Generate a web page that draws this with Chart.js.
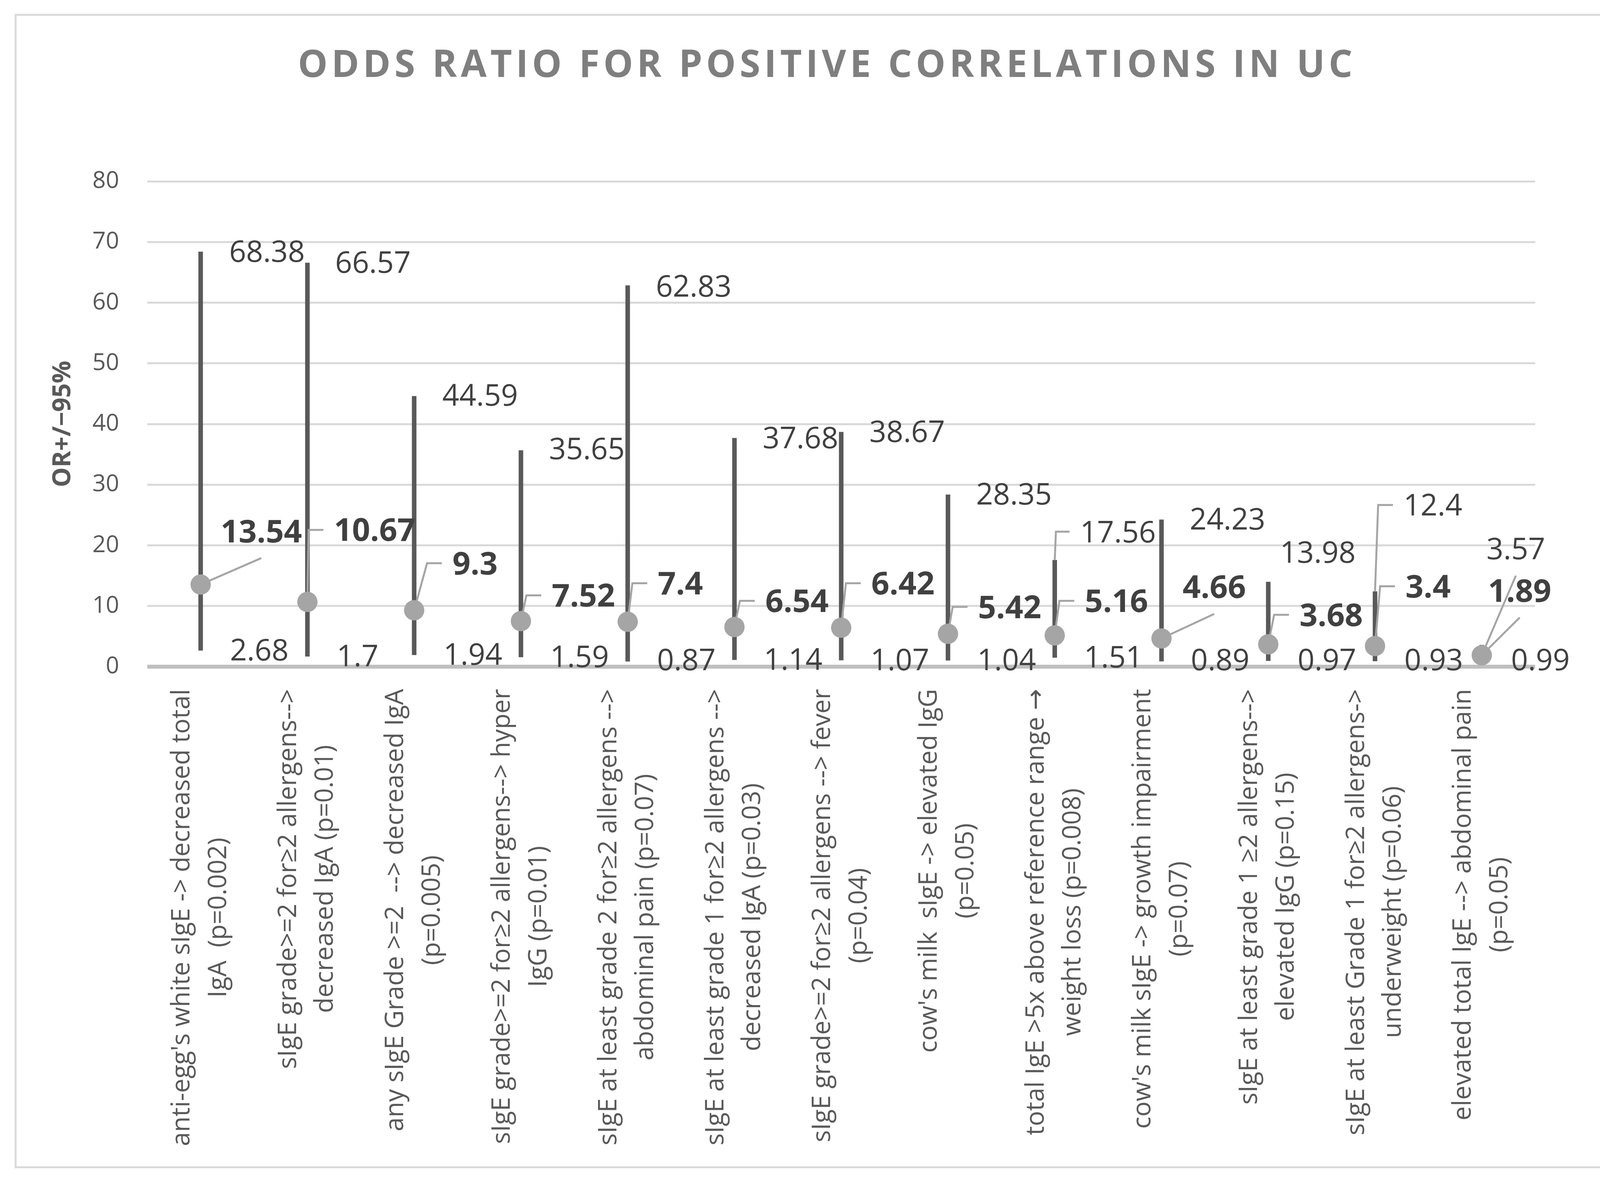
<!DOCTYPE html>
<html>
<head>
<meta charset="utf-8">
<script src="https://cdn.jsdelivr.net/npm/chart.js@4.4.1/dist/chart.umd.min.js"></script>
<style>
html, body { margin: 0; padding: 0; background: #fff; }
canvas { display: block; }
</style>
</head>
<body>
<canvas id="myChart" width="4225" height="3017"></canvas>
<script>
// Chart data
var categories = [
    ["anti-egg's white sIgE -> decreased total", "IgA  (p=0.002)"],
    ["sIgE grade>=2 for\u22652 allergens-->", "decreased IgA (p=0.01)"],
    ["any sIgE Grade >=2  --> decreased IgA", "(p=0.005)"],
    ["sIgE grade>=2 for\u22652 allergens--> hyper", "IgG (p=0.01)"],
    ["sIgE at least grade 2 for\u22652 allergens -->", "abdominal pain (p=0.07)"],
    ["sIgE at least grade 1 for\u22652 allergens -->", "decreased IgA (p=0.03)"],
    ["sIgE grade>=2 for\u22652 allergens --> fever", "(p=0.04)"],
    ["cow's milk  sIgE -> elevated IgG", "(p=0.05)"],
    ["total IgE >5x above reference range \u2192", "weight loss (p=0.008)"],
    ["cow's milk sIgE -> growth impairment", "(p=0.07)"],
    ["sIgE at least grade 1 \u22652 allergens-->", "elevated IgG (p=0.15)"],
    ["sIgE at least Grade 1 for\u22652 allergens->", "underweight (p=0.06)"],
    ["elevated total IgE --> abdominal pain", "(p=0.05)"]
];
var oddsRatio = [13.54, 10.67, 9.3, 7.52, 7.4, 6.54, 6.42, 5.42, 5.16, 4.66, 3.68, 3.4, 1.89];
var ciLow = [2.68, 1.7, 1.94, 1.59, 0.87, 1.14, 1.07, 1.04, 1.51, 0.89, 0.97, 0.93, 0.99];
var ciHigh = [68.38, 66.57, 44.59, 35.65, 62.83, 37.68, 38.67, 28.35, 17.56, 24.23, 13.98, 12.4, 3.57];
var yTicks = [0, 10, 20, 30, 40, 50, 60, 70, 80];

// Where the data labels sit (axis units) and how far right of the bar they start (px)
var orLabelAt = [22, 22.2, 16.7, 11.4, 13.4, 10.5, 13.4, 9.5, 10.5, 12.8, 8.2, 12.9, 12.2];
var orLabelDx = [51, 68, 98, 79, 77, 79, 77, 77, 77, 54, 80, 78, 16];
var orLeader = ['line', 'elbow', 'elbow', 'elbow', 'elbow', 'elbow', 'elbow', 'elbow', 'elbow', 'line', 'elbow', 'elbow', 'line'];
var hiLabelAt = [68.1, 66.3, 44.4, 35.6, 62.4, 37.4, 38.4, 28.1, 21.9, 24.0, 18.5, 26.3, 19.1];
var hiLabelDx = [73, 71, 72, 72, 72, 72, 72, 72, 65, 72, 30, 73, 12];
var hiLeader = ['', '', '', '', '', '', '', '', 'elbow', '', '', 'elbow', 'line'];

var FONT = "'Open Sans', 'DejaVu Sans', sans-serif";

// Light frame round the whole chart
var framePlugin = {
    id: 'frame',
    beforeDraw: function (chart) {
        var ctx = chart.ctx;
        ctx.save();
        ctx.fillStyle = '#ffffff';
        ctx.fillRect(0, 0, chart.width, chart.height);
        ctx.strokeStyle = '#D9D9D9';
        ctx.lineWidth = 5;
        ctx.strokeRect(40, 38, 4146, 2949);
        ctx.restore();
    }
};

// Spaced-out title
var titlePlugin = {
    id: 'spacedTitle',
    afterDraw: function (chart) {
        var ctx = chart.ctx;
        var text = 'ODDS RATIO FOR POSITIVE CORRELATIONS IN UC';
        ctx.save();
        ctx.font = 'bold 96px ' + FONT;
        ctx.fillStyle = '#7F7F7F';
        ctx.textBaseline = 'middle';
        ctx.textAlign = 'left';
        var w = ctx.measureText(text).width;
        var spacing = Math.max(0, (2700 - w) / (text.length - 1));
        ctx.letterSpacing = spacing + 'px';
        var total = ctx.measureText(text).width - spacing;
        ctx.fillText(text, chart.width / 2 - total / 2, 170);
        ctx.restore();
    }
};

// Rotated, centred two-line category labels
var categoryPlugin = {
    id: 'categoryLabels',
    afterDraw: function (chart) {
        var ctx = chart.ctx;
        var xs = chart.scales.x;
        var axisY = chart.chartArea.bottom;
        ctx.save();
        ctx.font = '65px ' + FONT;
        ctx.fillStyle = '#595959';
        ctx.textAlign = 'center';
        ctx.textBaseline = 'middle';
        categories.forEach(function (lines, i) {
            var x = xs.getPixelForValue(i);
            var wMax = Math.max.apply(null, lines.map(function (l) { return ctx.measureText(l).width; }));
            ctx.save();
            ctx.translate(x, axisY);
            ctx.rotate(-Math.PI / 2);
            lines.forEach(function (l, j) {
                ctx.fillText(l, -(57 + wMax / 2), (j - (lines.length - 1) / 2) * 94);
            });
            ctx.restore();
        });
        ctx.restore();
    }
};

// Data labels with leader lines
var labelPlugin = {
    id: 'errLabels',
    afterDatasetsDraw: function (chart) {
        var ctx = chart.ctx;
        var xs = chart.scales.x;
        var ys = chart.scales.y;
        ctx.save();
        ctx.strokeStyle = '#A5A5A5';
        ctx.lineWidth = 5;

        function leader(type, x, y0, left, width, at) {
            if (type === 'line') {
                ctx.beginPath();
                ctx.moveTo(x, y0);
                ctx.lineTo(left + width / 2, ys.getPixelForValue(at - 4.1));
                ctx.stroke();
            } else if (type === 'elbow') {
                var yk = ys.getPixelForValue(at + 0.35);
                var knee = Math.max(x + 3, left - 65);
                ctx.beginPath();
                ctx.moveTo(x, y0);
                ctx.lineTo(knee, yk);
                ctx.lineTo(left - 27, yk);
                ctx.stroke();
            }
        }

        categories.forEach(function (c, i) {
            var x = xs.getPixelForValue(i);
            ctx.font = 'bold 81px ' + FONT;
            var orW = ctx.measureText(String(oddsRatio[i])).width;
            leader(orLeader[i], x, ys.getPixelForValue(oddsRatio[i]), x + orLabelDx[i], orW, orLabelAt[i]);

            ctx.font = '76px ' + FONT;
            var hiW = ctx.measureText(String(ciHigh[i])).width;
            var hiStart = hiLeader[i] === 'line' ? ys.getPixelForValue(oddsRatio[i]) : ys.getPixelForValue(ciHigh[i]);
            leader(hiLeader[i], x, hiStart, x + hiLabelDx[i], hiW, hiLabelAt[i]);
        });

        ctx.fillStyle = '#404040';
        ctx.textAlign = 'left';
        ctx.textBaseline = 'middle';
        categories.forEach(function (c, i) {
            var x = xs.getPixelForValue(i);
            ctx.font = '76px ' + FONT;
            ctx.fillText(String(ciHigh[i]), x + hiLabelDx[i], ys.getPixelForValue(hiLabelAt[i]));
            ctx.fillText(String(ciLow[i]), x + 75, ys.getPixelForValue(Math.max(ciLow[i] - 0.25, 0.8)));
            ctx.font = 'bold 81px ' + FONT;
            ctx.fillText(String(oddsRatio[i]), x + orLabelDx[i], ys.getPixelForValue(orLabelAt[i]));
        });
        ctx.restore();
    }
};

var ctx = document.getElementById('myChart').getContext('2d');
var myChart = new Chart(ctx, {
    type: 'bar',
    data: {
        labels: categories,
        datasets: [{
            type: 'line',
            label: 'OR',
            data: oddsRatio,
            showLine: false,
            pointRadius: 26,
            pointHoverRadius: 26,
            pointBackgroundColor: '#A5A5A5',
            pointBorderColor: '#A5A5A5',
            pointBorderWidth: 0,
            order: 0
        }, {
            label: '95% CI',
            data: ciLow.map(function (l, i) { return [l, ciHigh[i]]; }),
            backgroundColor: '#595959',
            barThickness: 11,
            borderSkipped: false,
            order: 1
        }]
    },
    options: {
        responsive: false,
        animation: false,
        devicePixelRatio: 1,
        layout: { padding: { top: 464, right: 295, left: 0, bottom: 0 } },
        plugins: {
            legend: { display: false },
            tooltip: { enabled: false },
            title: { display: false }
        },
        scales: {
            x: {
                ticks: { display: false },
                grid: { display: false },
                border: { display: false },
                afterFit: function (s) { s.height = 3017 - 1706; }
            },
            y: {
                min: 0,
                max: 80,
                afterBuildTicks: function (s) { s.ticks = yTicks.map(function (v) { return { value: v }; }); },
                ticks: { color: '#595959', font: { size: 60, family: FONT }, padding: 72 },
                grid: {
                    color: function (c) { return c.tick && c.tick.value === 0 ? '#BFBFBF' : '#D9D9D9'; },
                    lineWidth: function (c) { return c.tick && c.tick.value === 0 ? 10 : 5; },
                    drawTicks: false
                },
                border: { display: false },
                title: {
                    display: true,
                    text: 'OR+/\u221295%',
                    color: '#595959',
                    font: { size: 64, weight: 'bold', family: FONT },
                    padding: { top: 123, bottom: 0 }
                },
                afterFit: function (s) { s.width = 377; }
            }
        }
    },
    plugins: [framePlugin, labelPlugin, categoryPlugin, titlePlugin]
});
</script>
</body>
</html>
